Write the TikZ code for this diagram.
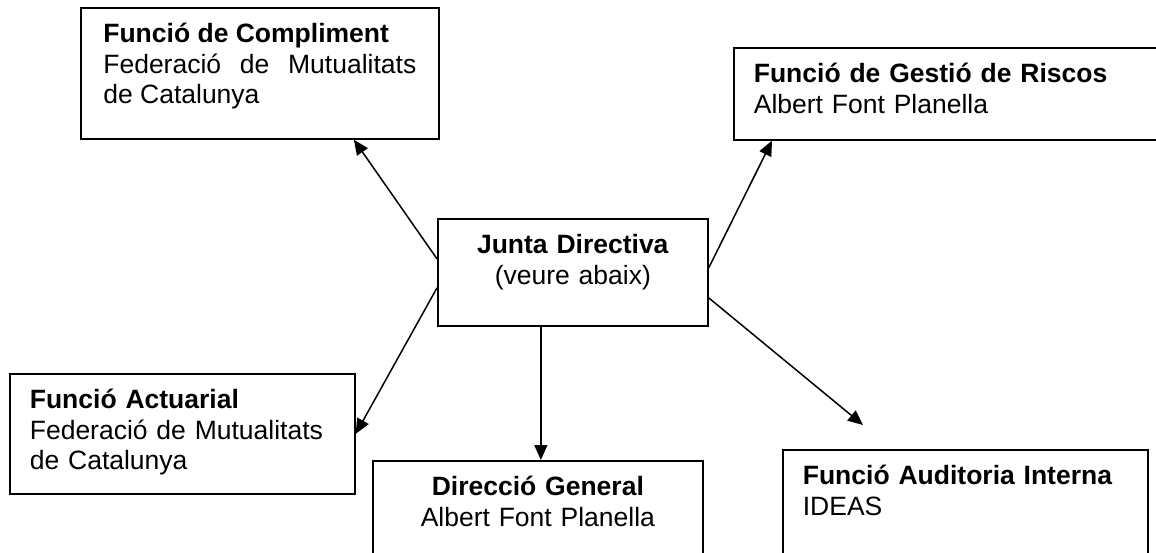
\documentclass[tikz,border=0pt]{standalone}
\usepackage{fontspec}
\setmainfont{Liberation Sans}
\usetikzlibrary{arrows.meta, positioning, calc}
\tolerance=9999
\hbadness=10000

\begin{document}
\begin{tikzpicture}[
    x=1pt, y=-1pt,
    >={Triangle[length=15pt, width=13pt]},
    box/.style={draw, line width=1.7pt, anchor=north west, inner xsep=20pt, inner ysep=13pt,
        text height=22pt, font=\fontsize{26.5}{30.5}\selectfont},
    link/.style={->, line width=1.5pt},
]
    \useasboundingbox (0,0) rectangle (1156,552);

    \node[box, text width=313pt, minimum width=358pt, text depth=83pt, align=justify] (cmp) at (80,7)
        {\textbf{Funció de Compliment}\\Federació de Mutualitats de Catalunya};
    \node[box, text width=387pt, text depth=44pt, align=left] (rsc) at (733,47)
        {\textbf{Funció de Gestió de Riscos}\\Albert Font Planella};
    \node[box, text width=230pt, text depth=59pt, align=center] (jd) at (437,218)
        {\textbf{Junta Directiva}\\(veure abaix)};
    \node[box, text width=305pt, text depth=72pt, align=left] (act) at (9,373)
        {\textbf{Funció Actuarial}\\Federació de Mutualitats de Catalunya};
    \node[box, text width=290pt, text depth=52pt, align=center] (dg) at (372,460)
        {\textbf{Direcció General}\\Albert Font Planella};
    \node[box, text width=325pt, text depth=63pt, align=left] (aud) at (782,449)
        {\textbf{Funció Auditoria Interna}\\IDEAS};

    \coordinate (audtip) at ([shift={(81pt,24pt)}]aud.north west);

    \draw[link] ([yshift=13.5pt]jd.west) -- ([xshift=94pt]cmp.south);
    \draw[link] ([yshift=4.5pt]jd.east) -- ([xshift=39pt]rsc.south west);
    \draw[link] ([yshift=-15.5pt]jd.west) -- (act.east);
    \draw[link] ([xshift=-32pt]jd.south) -- ([xshift=3pt]dg.north);
    \draw[link] ([yshift=-25.5pt]jd.east) -- (audtip);
\end{tikzpicture}
\end{document}
